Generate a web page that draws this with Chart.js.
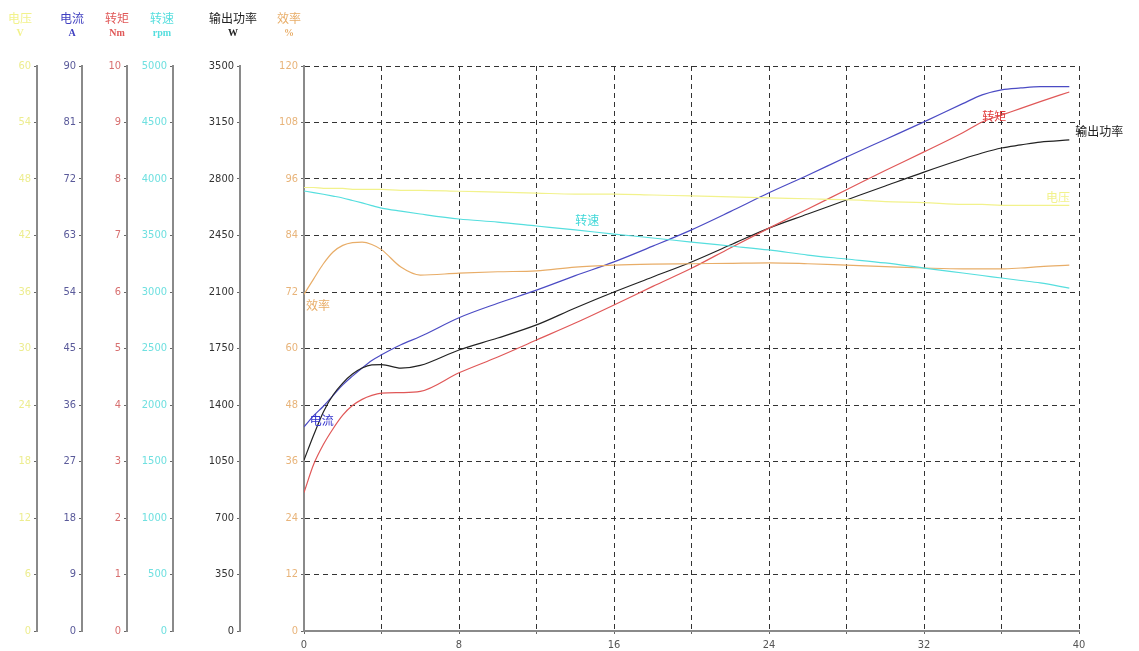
<!DOCTYPE html>
<html>
<head>
<meta charset="utf-8">
<script src="https://cdn.jsdelivr.net/npm/chart.js@4.4.1/dist/chart.umd.min.js"></script>
<style>
  html, body { margin: 0; padding: 0; background: #fff; }
  #wrap { width: 1139px; height: 651px; }
</style>
</head>
<body>
<div id="wrap"><canvas id="motorChart"></canvas></div>
<script>
// x axis (load points)
const xs = [0, 0.5, 1, 1.5, 2, 2.5, 3, 3.5, 4, 5, 6, 8, 10, 12, 14, 16, 18, 20, 22, 24, 26, 28, 30, 32, 34, 35, 36, 37, 38, 39.5];

const voltage = [47.1, 47.1, 47.0, 47.0, 47.0, 46.9, 46.9, 46.9, 46.9, 46.8, 46.8, 46.7, 46.6, 46.5, 46.4, 46.4, 46.3, 46.2, 46.1, 46.0, 45.9, 45.8, 45.6, 45.5, 45.3, 45.3, 45.2, 45.2, 45.2, 45.2];
const current = [32.5, 34.3, 35.8, 37.5, 39.2, 40.6, 41.9, 43.1, 44.0, 45.6, 46.9, 49.9, 52.2, 54.3, 56.6, 58.8, 61.3, 63.9, 66.8, 69.8, 72.6, 75.5, 78.3, 81.1, 84.0, 85.4, 86.2, 86.5, 86.7, 86.7];
const torque = [2.45, 2.95, 3.3, 3.58, 3.82, 3.99, 4.1, 4.17, 4.21, 4.22, 4.24, 4.57, 4.85, 5.15, 5.45, 5.77, 6.1, 6.42, 6.78, 7.13, 7.47, 7.81, 8.15, 8.48, 8.82, 9.01, 9.13, 9.25, 9.37, 9.54];
const speed = [3894, 3880, 3865, 3849, 3832, 3810, 3788, 3765, 3743, 3715, 3690, 3646, 3619, 3584, 3549, 3513, 3478, 3442, 3407, 3372, 3327, 3292, 3257, 3212, 3168, 3146, 3124, 3102, 3080, 3035];
const power = [1059, 1214, 1357, 1462, 1536, 1592, 1629, 1648, 1650, 1628, 1645, 1741, 1815, 1896, 2001, 2100, 2193, 2286, 2391, 2496, 2583, 2670, 2757, 2843, 2924, 2961, 2992, 3011, 3029, 3042];
const efficiency = [71.5, 74.8, 78, 80.5, 81.9, 82.5, 82.6, 82.1, 81.0, 77.3, 75.6, 76.0, 76.3, 76.5, 77.3, 77.7, 77.9, 78.0, 78.1, 78.2, 78.0, 77.7, 77.4, 77.1, 76.9, 76.9, 76.9, 77.1, 77.4, 77.7];

// axes: id, name, unit, max
const axisIds = ['yV', 'yI', 'yT', 'yN', 'yP', 'yE'];
const axisNames = ['电压', '电流', '转矩', '转速', '输出功率', '效率'];
const axisUnits = ['V', 'A', 'Nm', 'rpm', 'W', '%'];
const axisMax = [60, 90, 10, 5000, 3500, 120];
const xMax = 40;

const colors = {
  yV: '#f2f28c', yI: '#4b4bc4', yT: '#e05858', yN: '#55dede', yP: '#222222', yE: '#e8ad68'
};
const tickColors = {
  yV: '#eded90', yI: '#5a5a9a', yT: '#d87070', yN: '#70e0e0', yP: '#333333', yE: '#e8b47a'
};
const axisWidths = { yV: 37, yI: 45, yT: 45, yN: 46, yP: 67, yE: 64 };
const headerOffset = { yV: 17, yI: 10, yT: 10, yN: 11, yP: 7, yE: 15 };

// series name labels (placed at data coords)
const seriesLabels = [
  { text: '电流', axis: 'yI', x: 0.3, y: 33.6 },
  { text: '效率', axis: 'yE', x: 0.1, y: 69.2 },
  { text: '转速', axis: 'yN', x: 14.0, y: 3637 },
  { text: '转矩', axis: 'yT', x: 35.0, y: 9.1 },
  { text: '输出功率', axis: 'yP', x: 39.8, y: 3097 },
  { text: '电压', axis: 'yV', x: 38.3, y: 46.0 }
];

const tickFont = { family: "'Liberation Sans Narrow', 'DejaVu Sans Condensed', sans-serif", size: 11 };

const toPts = arr => arr.map((v, i) => ({ x: xs[i], y: v }));

const scales = {
  x: {
    type: 'linear', min: 0, max: xMax,
    ticks: { stepSize: 4, color: '#555', font: tickFont, padding: 5, maxRotation: 0,
      callback: v => (v % 8 === 0 ? String(v) : '') },
    grid: {
      color: c => (c.tick && c.tick.value === 0 ? 'rgba(0,0,0,0)' : '#333'),
      tickColor: '#666', lineWidth: 1, tickLength: 3, tickBorderDash: []
    },
    border: { display: true, color: '#8a8a8a', width: 2, dash: [5, 4] },
    afterFit: s => { s.height = 20; }
  }
};

axisIds.forEach((id, i) => {
  const isEff = id === 'yE';
  scales[id] = {
    type: 'linear', position: 'left', min: 0, max: axisMax[i],
    weight: 6 - i,
    ticks: { stepSize: axisMax[i] / 10, color: tickColors[id], font: tickFont, padding: 3,
      callback: v => String(v) },
    grid: {
      display: true,
      drawOnChartArea: isEff,
      drawTicks: true,
      tickLength: 3,
      tickBorderDash: [],
      color: c => (isEff && c.tick && c.tick.value === 0 ? 'rgba(0,0,0,0)' : '#333'),
      tickColor: '#666'
    },
    border: { display: true, color: '#8a8a8a', width: 2, dash: isEff ? [5, 4] : [] },
    afterFit: s => { s.width = axisWidths[id]; }
  };
});

const datasets = [
  { label: '电压', data: toPts(voltage), yAxisID: 'yV', borderColor: colors.yV },
  { label: '转速', data: toPts(speed), yAxisID: 'yN', borderColor: colors.yN },
  { label: '效率', data: toPts(efficiency), yAxisID: 'yE', borderColor: colors.yE },
  { label: '转矩', data: toPts(torque), yAxisID: 'yT', borderColor: colors.yT },
  { label: '输出功率', data: toPts(power), yAxisID: 'yP', borderColor: colors.yP },
  { label: '电流', data: toPts(current), yAxisID: 'yI', borderColor: colors.yI }
].map(d => Object.assign(d, {
  borderWidth: 1.2, pointRadius: 0, fill: false, cubicInterpolationMode: 'monotone'
}));

const textPlugin = {
  id: 'textPlugin',
  afterDraw(chart) {
    const ctx = chart.ctx;
    ctx.save();
    // axis headers
    axisIds.forEach((id, i) => {
      const s = chart.scales[id];
      const cx = s.right - headerOffset[id];
      ctx.fillStyle = colors[id] === '#222222' ? '#222' : colors[id];
      if (id === 'yI') ctx.fillStyle = '#4040c0';
      ctx.textAlign = 'center';
      ctx.textBaseline = 'middle';
      ctx.font = "12px 'Noto Sans CJK SC'";
      ctx.fillText(axisNames[i], cx, 18);
      ctx.font = "bold 10px 'Liberation Serif', serif";
      ctx.fillText(axisUnits[i], cx, 33);
    });
    // series labels
    ctx.font = "12px 'Noto Sans CJK SC'";
    ctx.textAlign = 'left';
    ctx.textBaseline = 'middle';
    seriesLabels.forEach(l => {
      const px = chart.scales.x.getPixelForValue(l.x);
      const py = chart.scales[l.axis].getPixelForValue(l.y);
      let c = colors[l.axis];
      if (l.axis === 'yI') c = '#3333cc';
      if (l.axis === 'yT') c = '#e03a3a';
      if (l.axis === 'yN') c = '#40d8d8';
      ctx.fillStyle = c;
      ctx.fillText(l.text, px, py);
    });
    ctx.restore();
  }
};

new Chart(document.getElementById('motorChart'), {
  type: 'line',
  data: { datasets: datasets },
  options: {
    responsive: true,
    maintainAspectRatio: false,
    animation: false,
    layout: { padding: { left: 0, top: 66, right: 60, bottom: 0 } },
    plugins: { legend: { display: false }, tooltip: { enabled: false } },
    scales: scales
  },
  plugins: [textPlugin]
});
</script>
</body>
</html>
